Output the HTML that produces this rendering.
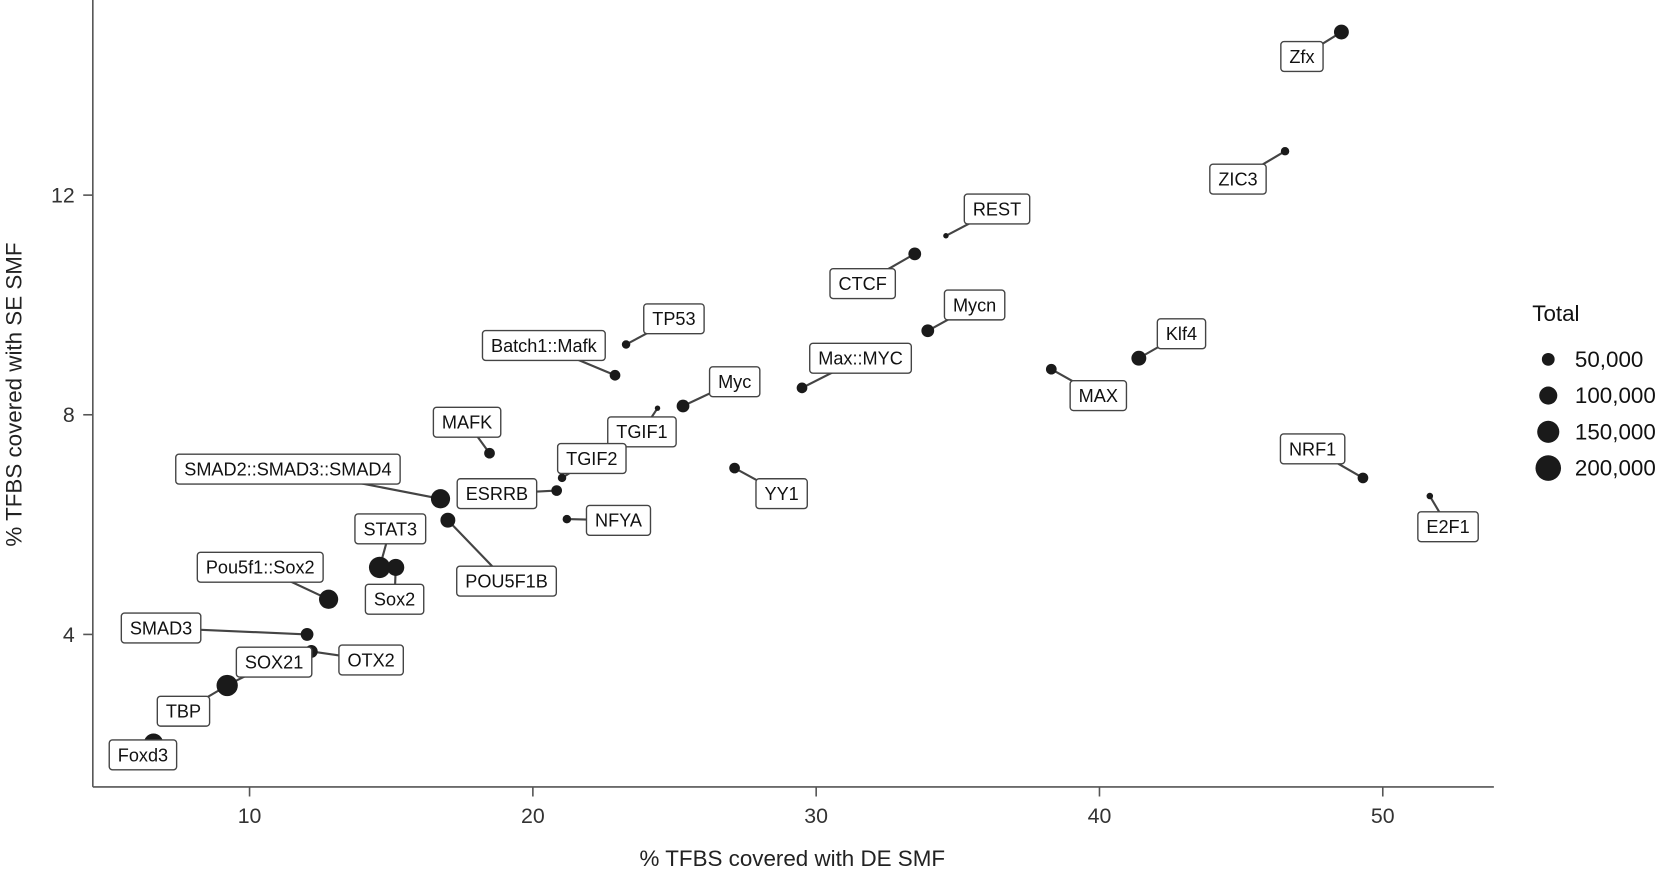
<!DOCTYPE html>
<html><head><meta charset="utf-8"><style>
html,body{margin:0;padding:0;background:#fff;}
svg{display:block;font-family:"Liberation Sans",Arial,sans-serif;}
</style></head><body>
<svg id="chart" width="1672" height="869" viewBox="0 0 1568 815" xmlns="http://www.w3.org/2000/svg">
<g id="axes"></g>
<g id="links"></g>
<g id="points"></g>
<g id="labels"></g>
<g id="legend"></g>
<text x="743" y="812" text-anchor="middle" font-size="21" fill="#222">% TFBS covered with DE SMF</text>
<text transform="translate(20,370) rotate(-90)" text-anchor="middle" font-size="21" fill="#222">% TFBS covered with SE SMF</text>
</svg>
<script>
const names = ["Zfx","ZIC3","REST","CTCF","Mycn","TP53","Batch1::Mafk","Max::MYC","Myc","TGIF1","MAX","Klf4","MAFK","TGIF2","ESRRB","YY1","NFYA","SMAD2::SMAD3::SMAD4","POU5F1B","STAT3","Sox2","Pou5f1::Sox2","SMAD3","OTX2","SOX21","TBP","Foxd3","NRF1","E2F1"];
const xVals = [48.54,46.55,34.58,33.48,33.94,23.29,22.9,29.5,25.3,24.4,38.3,41.39,18.47,21.03,20.84,27.12,21.2,16.74,17.0,14.59,15.16,12.79,12.03,12.18,9.3,9.21,6.61,49.3,51.66];
const yVals = [14.97,12.8,11.26,10.93,9.53,9.28,8.72,8.49,8.16,8.12,8.83,9.03,7.3,6.85,6.62,7.03,6.1,6.47,6.08,5.22,5.22,4.64,4.0,3.69,3.1,3.07,2.02,6.85,6.52];
const totals = [68000,22000,9000,50000,50000,22000,35000,35000,50000,9000,35000,68000,35000,22000,35000,35000,22000,113000,68000,139000,89000,113000,50000,50000,22000,139000,113000,35000,13000];
const xTicks = [10,20,30,40,50];
const yTicks = [4,8,12];
const legendVals = [50000,100000,150000,200000];
const legendLabels = ["50,000","100,000","150,000","200,000"];
// label box centers (layout, display coords)
const labelPos = [[1221,53],[1161,168],[935,196],[809,266],[914,286],[632,299],[510,324],[807,336],[689,358],[602,405],[1030,371],[1108,313],[438,396],[555,430],[466,463],[733,463],[580,488],[270,440],[475,545],[366,496],[370,562],[244,532],[151,589],[348,619],[257,621],[172,667],[134,708],[1231,421],[1358,494]];

const NS="http://www.w3.org/2000/svg";
const X = v => 234 + (v-10)*26.57;
const Y = v => 595 - (v-4)*51.5;
const R = t => Math.sqrt(t)*0.0268;
function mk(tag,attrs,parent){const e=document.createElementNS(NS,tag);for(const k in attrs)e.setAttribute(k,attrs[k]);parent.appendChild(e);return e;}
const axes=document.getElementById('axes');
let e=mk('line',{x1:87,y1:738,x2:1401,y2:738,stroke:'#555','stroke-width':1.5},axes);


e=mk('line',{x1:87,y1:0,x2:87,y2:738,stroke:'#555','stroke-width':1.5},axes);


xTicks.forEach(t=>{
 const tk=mk('line',{x1:X(t),y1:738,x2:X(t),y2:747,stroke:'#555','stroke-width':1.5},axes);
 
 
 const tl=mk('text',{x:X(t),y:772,'text-anchor':'middle','font-size':20,fill:'#333'},axes);
 tl.textContent=t;
 
 
});
yTicks.forEach(t=>{
 const tk=mk('line',{x1:78,y1:Y(t),x2:87,y2:Y(t),stroke:'#555','stroke-width':1.5},axes);
 
 
 const tl=mk('text',{x:70,y:Y(t)+7,'text-anchor':'end','font-size':20,fill:'#333'},axes);
 tl.textContent=t;
 
 
});
const links=document.getElementById('links'),pts=document.getElementById('points'),labs=document.getElementById('labels');
names.forEach((n,i)=>{
 const px=X(xVals[i]),py=Y(yVals[i]);const [lx,ly]=labelPos[i];
 const ln=mk('line',{x1:px,y1:py,x2:lx,y2:ly,stroke:'#444','stroke-width':2},links);
 
 
 const c=mk('circle',{cx:px,cy:py,r:R(totals[i]),fill:'#1a1a1a'},pts);
 
 
 const g=mk('g',{},labs);
 
 
 const rect=mk('rect',{rx:3,fill:'#fff',stroke:'#444','stroke-width':1.3},g);
 const tx=mk('text',{x:lx,y:ly+6,'text-anchor':'middle','font-size':17,fill:'#111'},g);
 tx.textContent=n;
 const w=tx.getComputedTextLength()+16;
 rect.setAttribute('x',lx-w/2);rect.setAttribute('y',ly-14);rect.setAttribute('width',w);rect.setAttribute('height',28);
});
const leg=document.getElementById('legend');
const lt=mk('text',{x:1437,y:301,'font-size':21,fill:'#111'},leg);
lt.textContent='Total';


legendVals.forEach((v,i)=>{
 const y=337+i*34;
 const c=mk('circle',{cx:1452,cy:y,r:R(v),fill:'#1a1a1a'},leg);
 
 
 const t=mk('text',{x:1477,y:y+7,'font-size':21,fill:'#111'},leg);
 t.textContent=legendLabels[i];
 
 
});
</script>
</body></html>
